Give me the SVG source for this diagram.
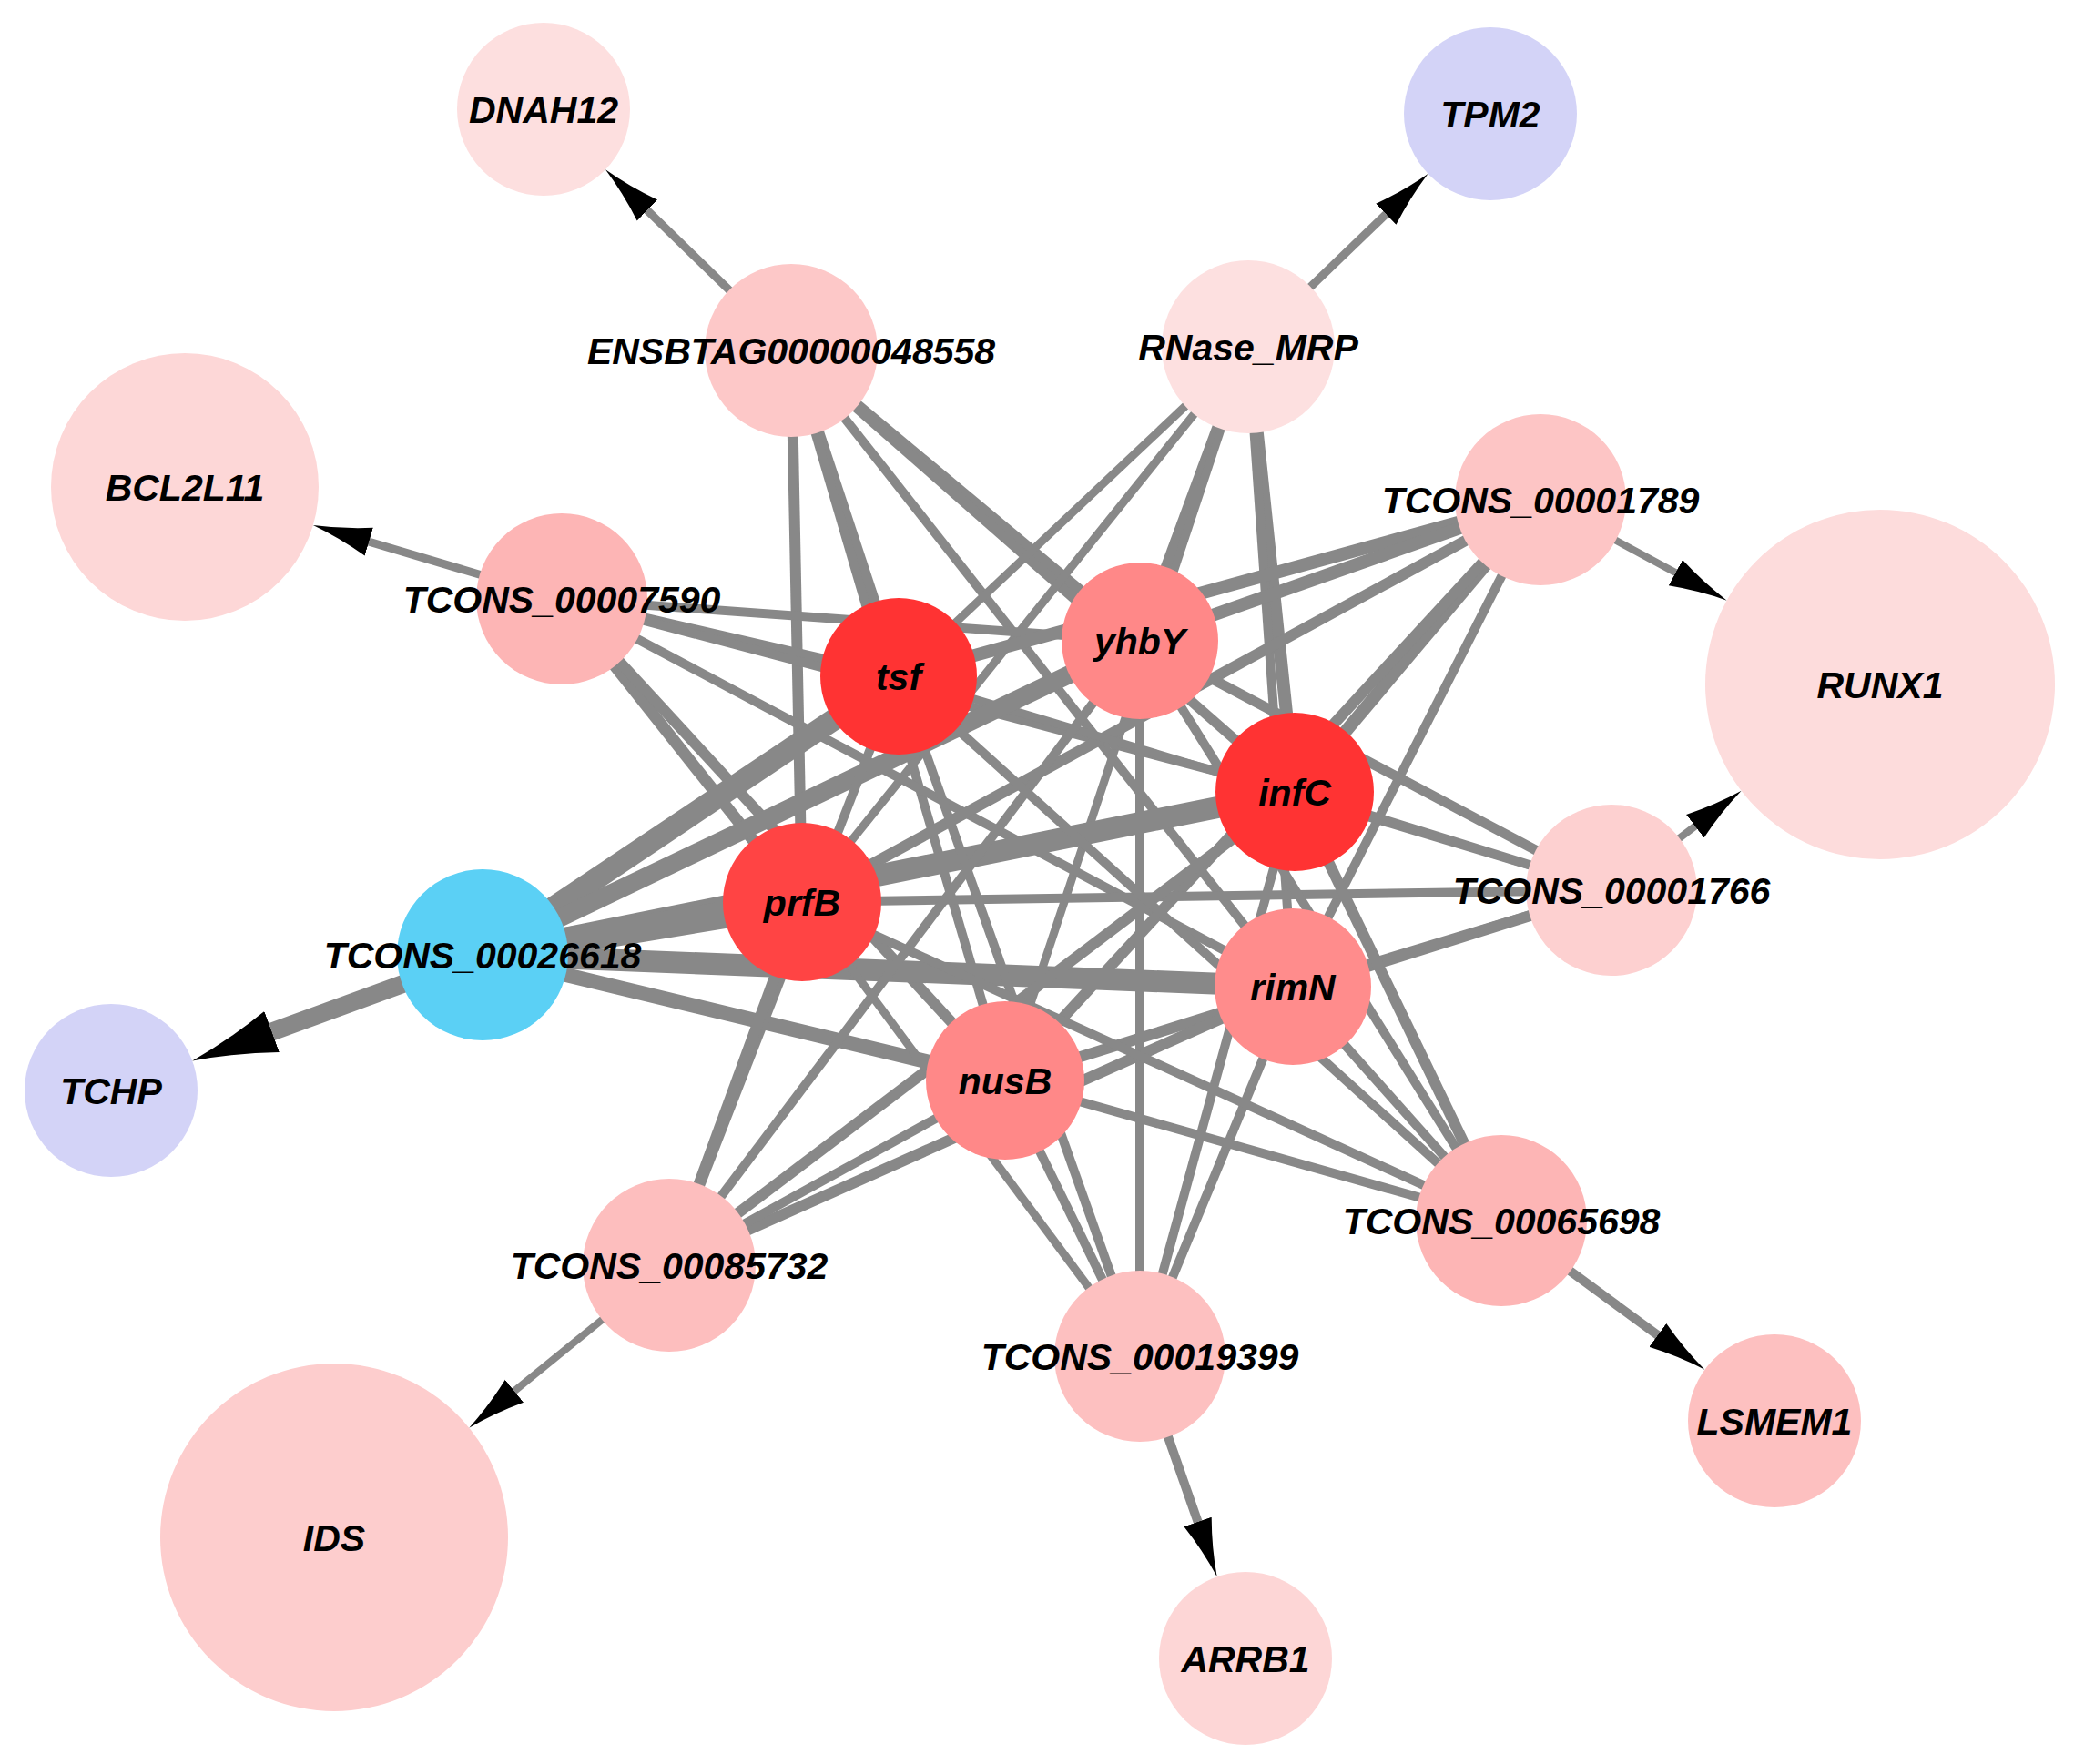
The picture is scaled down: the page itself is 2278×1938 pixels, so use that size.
<svg xmlns="http://www.w3.org/2000/svg" width="2278" height="1938" viewBox="0 0 2278 1938">
<style>
.e{stroke:#888888;stroke-linecap:butt;fill:none}
.lbl{font-family:"Liberation Sans",Arial,sans-serif;font-weight:bold;font-style:italic;font-size:41px;fill:#000000;text-anchor:middle}
</style>
<defs>
<marker id="ah" markerUnits="userSpaceOnUse" markerWidth="70" markerHeight="40" viewBox="0 -20 70 40" refX="4" refY="0" orient="auto"><path d="M0,-16 Q32,-5 64,0 Q32,5 0,16 Z" fill="#000000"/></marker>
<marker id="ahb" markerUnits="userSpaceOnUse" markerWidth="100" markerHeight="56" viewBox="0 -28 100 56" refX="4" refY="0" orient="auto"><path d="M0,-24 Q46,-8 93,0 Q46,8 0,24 Z" fill="#000000"/></marker>
</defs>
<rect width="2278" height="1938" fill="#ffffff"/>
<g id="connectors">
<!-- ENSBTAG -->
<line class="e" x1="869" y1="385" x2="987" y2="743" stroke-width="13"/>
<line class="e" x1="869" y1="385" x2="1252" y2="704" stroke-width="13"/>
<line class="e" x1="869" y1="385" x2="1422" y2="870" stroke-width="11"/>
<line class="e" x1="869" y1="385" x2="881" y2="991" stroke-width="12"/>
<line class="e" x1="869" y1="385" x2="1420" y2="1084" stroke-width="10"/>
<line class="e" x1="869" y1="385" x2="1104" y2="1187" stroke-width="10"/>
<!-- RNase_MRP -->
<line class="e" x1="1371" y1="381" x2="987" y2="743" stroke-width="9"/>
<line class="e" x1="1371" y1="381" x2="1252" y2="704" stroke-width="14"/>
<line class="e" x1="1371" y1="381" x2="1422" y2="870" stroke-width="14"/>
<line class="e" x1="1371" y1="381" x2="881" y2="991" stroke-width="9"/>
<line class="e" x1="1371" y1="381" x2="1420" y2="1084" stroke-width="10"/>
<line class="e" x1="1371" y1="381" x2="1104" y2="1187" stroke-width="9"/>
<!-- TCONS_00007590 -->
<line class="e" x1="617" y1="658" x2="987" y2="743" stroke-width="11"/>
<line class="e" x1="617" y1="658" x2="1252" y2="704" stroke-width="10"/>
<line class="e" x1="617" y1="658" x2="1422" y2="870" stroke-width="10"/>
<line class="e" x1="617" y1="658" x2="881" y2="991" stroke-width="13"/>
<line class="e" x1="617" y1="658" x2="1420" y2="1084" stroke-width="10"/>
<line class="e" x1="617" y1="658" x2="1104" y2="1187" stroke-width="12"/>
<!-- TCONS_00001789 -->
<line class="e" x1="1692" y1="549" x2="987" y2="743" stroke-width="14"/>
<line class="e" x1="1692" y1="549" x2="1252" y2="704" stroke-width="14"/>
<line class="e" x1="1692" y1="549" x2="1422" y2="870" stroke-width="14"/>
<line class="e" x1="1692" y1="549" x2="881" y2="991" stroke-width="12"/>
<line class="e" x1="1692" y1="549" x2="1420" y2="1084" stroke-width="10"/>
<line class="e" x1="1692" y1="549" x2="1104" y2="1187" stroke-width="12"/>
<!-- TCONS_00001766 -->
<line class="e" x1="1770" y1="978" x2="987" y2="743" stroke-width="9"/>
<line class="e" x1="1770" y1="978" x2="1252" y2="704" stroke-width="11"/>
<line class="e" x1="1770" y1="978" x2="1422" y2="870" stroke-width="10"/>
<line class="e" x1="1770" y1="978" x2="881" y2="991" stroke-width="10"/>
<line class="e" x1="1770" y1="978" x2="1420" y2="1084" stroke-width="10"/>
<line class="e" x1="1770" y1="978" x2="1104" y2="1187" stroke-width="12"/>
<!-- TCONS_00026618 -->
<line class="e" x1="530" y1="1049" x2="987" y2="743" stroke-width="24"/>
<line class="e" x1="530" y1="1049" x2="1252" y2="704" stroke-width="20"/>
<line class="e" x1="530" y1="1049" x2="1422" y2="870" stroke-width="24"/>
<line class="e" x1="530" y1="1049" x2="881" y2="991" stroke-width="30"/>
<line class="e" x1="530" y1="1049" x2="1420" y2="1084" stroke-width="24"/>
<line class="e" x1="530" y1="1049" x2="1104" y2="1187" stroke-width="16"/>
<!-- TCONS_00085732 -->
<line class="e" x1="735" y1="1390" x2="987" y2="743" stroke-width="10"/>
<line class="e" x1="735" y1="1390" x2="1252" y2="704" stroke-width="10"/>
<line class="e" x1="735" y1="1390" x2="1422" y2="870" stroke-width="12"/>
<line class="e" x1="735" y1="1390" x2="881" y2="991" stroke-width="12"/>
<line class="e" x1="735" y1="1390" x2="1420" y2="1084" stroke-width="12"/>
<line class="e" x1="735" y1="1390" x2="1104" y2="1187" stroke-width="10"/>
<!-- TCONS_00019399 -->
<line class="e" x1="1252" y1="1490" x2="987" y2="743" stroke-width="10"/>
<line class="e" x1="1252" y1="1490" x2="1252" y2="704" stroke-width="10"/>
<line class="e" x1="1252" y1="1490" x2="1422" y2="870" stroke-width="10"/>
<line class="e" x1="1252" y1="1490" x2="881" y2="991" stroke-width="9"/>
<line class="e" x1="1252" y1="1490" x2="1420" y2="1084" stroke-width="10"/>
<line class="e" x1="1252" y1="1490" x2="1104" y2="1187" stroke-width="10"/>
<!-- TCONS_00065698 -->
<line class="e" x1="1649" y1="1341" x2="987" y2="743" stroke-width="10"/>
<line class="e" x1="1649" y1="1341" x2="1252" y2="704" stroke-width="10"/>
<line class="e" x1="1649" y1="1341" x2="1422" y2="870" stroke-width="12"/>
<line class="e" x1="1649" y1="1341" x2="881" y2="991" stroke-width="10"/>
<line class="e" x1="1649" y1="1341" x2="1420" y2="1084" stroke-width="10"/>
<line class="e" x1="1649" y1="1341" x2="1104" y2="1187" stroke-width="10"/>
<!-- directed edges -->
<line class="e" x1="869" y1="385" x2="708.0" y2="228.2" stroke-width="9" marker-end="url(#ah)"/>
<line class="e" x1="1371" y1="381" x2="1525.2" y2="232.5" stroke-width="9" marker-end="url(#ah)"/>
<line class="e" x1="617" y1="658" x2="401.4" y2="594.0" stroke-width="9" marker-end="url(#ah)"/>
<line class="e" x1="1692" y1="549" x2="1843.9" y2="631.1" stroke-width="8" marker-end="url(#ah)"/>
<line class="e" x1="1770" y1="978" x2="1865.0" y2="905.3" stroke-width="8" marker-end="url(#ah)"/>
<line class="e" x1="530" y1="1049" x2="294.8" y2="1134.9" stroke-width="20" marker-end="url(#ahb)"/>
<line class="e" x1="735" y1="1390" x2="561.8" y2="1530.8" stroke-width="8" marker-end="url(#ah)"/>
<line class="e" x1="1252" y1="1490" x2="1316.9" y2="1675.7" stroke-width="10" marker-end="url(#ah)"/>
<line class="e" x1="1649" y1="1341" x2="1824.0" y2="1469.3" stroke-width="10" marker-end="url(#ah)"/>
</g>
<g id="nodes">
<g id="n-DNAH12"><circle cx="597" cy="120" r="95" fill="#FDDFDF"/><text class="lbl" x="597" y="135">DNAH12</text></g>
<g id="n-TPM2"><circle cx="1637" cy="125" r="95" fill="#D3D3F7"/><text class="lbl" x="1637" y="140">TPM2</text></g>
<g id="n-ENSBTAG00000048558"><circle cx="869" cy="385" r="95" fill="#FDC8C8"/><text class="lbl" x="869" y="400">ENSBTAG00000048558</text></g>
<g id="n-RNase_MRP"><circle cx="1371" cy="381" r="95" fill="#FDE0E0"/><text class="lbl" x="1371" y="396">RNase_MRP</text></g>
<g id="n-BCL2L11"><circle cx="203" cy="535" r="147" fill="#FDD7D7"/><text class="lbl" x="203" y="550">BCL2L11</text></g>
<g id="n-TCONS_00001789"><circle cx="1692" cy="549" r="94" fill="#FDC5C5"/><text class="lbl" x="1692" y="564">TCONS_00001789</text></g>
<g id="n-TCONS_00007590"><circle cx="617" cy="658" r="94" fill="#FDB5B5"/><text class="lbl" x="617" y="673">TCONS_00007590</text></g>
<g id="n-RUNX1"><circle cx="2065" cy="752" r="192" fill="#FDDCDC"/><text class="lbl" x="2065" y="767">RUNX1</text></g>
<g id="n-tsf"><circle cx="987" cy="743" r="86" fill="#FF3333"/><text class="lbl" x="987" y="758">tsf</text></g>
<g id="n-yhbY"><circle cx="1252" cy="704" r="86" fill="#FF8888"/><text class="lbl" x="1252" y="719">yhbY</text></g>
<g id="n-infC"><circle cx="1422" cy="870" r="87" fill="#FF3333"/><text class="lbl" x="1422" y="885">infC</text></g>
<g id="n-prfB"><circle cx="881" cy="991" r="87" fill="#FF4444"/><text class="lbl" x="881" y="1006">prfB</text></g>
<g id="n-TCONS_00001766"><circle cx="1770" cy="978" r="94" fill="#FDD0D0"/><text class="lbl" x="1770" y="993">TCONS_00001766</text></g>
<g id="n-TCONS_00026618"><circle cx="530" cy="1049" r="94" fill="#5BD0F5"/><text class="lbl" x="530" y="1064">TCONS_00026618</text></g>
<g id="n-rimN"><circle cx="1420" cy="1084" r="86" fill="#FF8C8C"/><text class="lbl" x="1420" y="1099">rimN</text></g>
<g id="n-TCHP"><circle cx="122" cy="1198" r="95" fill="#D3D3F7"/><text class="lbl" x="122" y="1213">TCHP</text></g>
<g id="n-nusB"><circle cx="1104" cy="1187" r="87" fill="#FF8888"/><text class="lbl" x="1104" y="1202">nusB</text></g>
<g id="n-TCONS_00065698"><circle cx="1649" cy="1341" r="94" fill="#FDB5B5"/><text class="lbl" x="1649" y="1356">TCONS_00065698</text></g>
<g id="n-TCONS_00085732"><circle cx="735" cy="1390" r="95" fill="#FDBEBE"/><text class="lbl" x="735" y="1405">TCONS_00085732</text></g>
<g id="n-TCONS_00019399"><circle cx="1252" cy="1490" r="94" fill="#FDC0C0"/><text class="lbl" x="1252" y="1505">TCONS_00019399</text></g>
<g id="n-LSMEM1"><circle cx="1949" cy="1561" r="95" fill="#FDC0C0"/><text class="lbl" x="1949" y="1576">LSMEM1</text></g>
<g id="n-IDS"><circle cx="367" cy="1689" r="191" fill="#FDCDCD"/><text class="lbl" x="367" y="1704">IDS</text></g>
<g id="n-ARRB1"><circle cx="1368" cy="1822" r="95" fill="#FDD6D6"/><text class="lbl" x="1368" y="1837">ARRB1</text></g>
</g>
</svg>
